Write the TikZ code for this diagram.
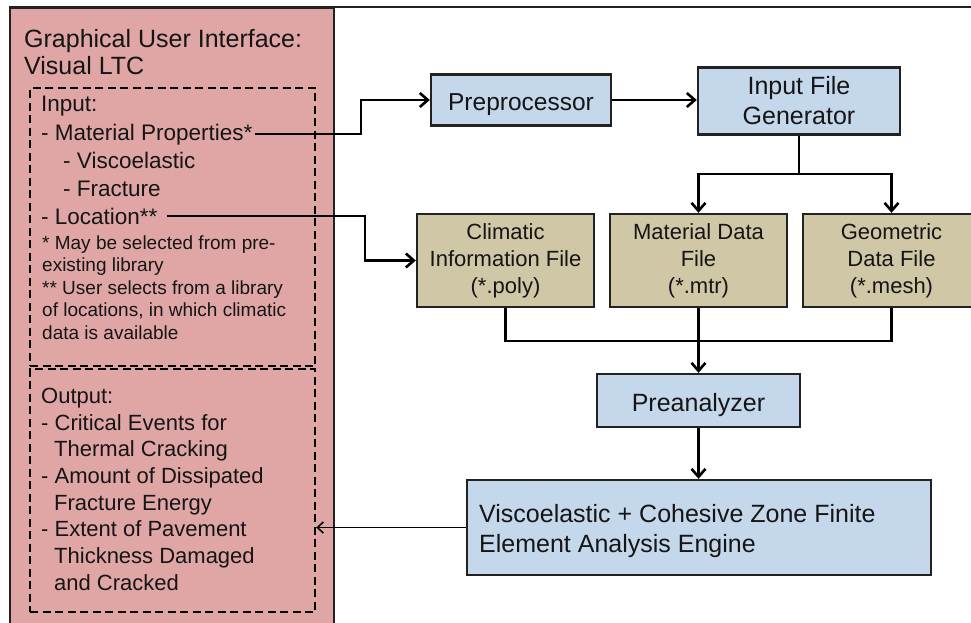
\documentclass[tikz,border=0pt]{standalone}
\usepackage{fontspec}
\setmainfont{Liberation Sans}
\usetikzlibrary{arrows.meta}
\definecolor{pinkfill}{HTML}{E0A6A6}
\definecolor{bluefill}{HTML}{C5D8EB}
\definecolor{tanfill}{HTML}{CFC7A6}
\definecolor{edgegray}{HTML}{222222}
\definecolor{txt}{HTML}{151515}
\begin{document}
\begin{tikzpicture}[x=1pt,y=-1pt,
  bluebox/.style={draw=edgegray, line width=2.4pt, fill=bluefill, align=center, text=txt, inner sep=0pt},
  tanbox/.style={draw=edgegray, line width=2.4pt, fill=tanfill, align=center, text=txt, inner sep=0pt,
    minimum width=177pt, minimum height=93pt, font=\fontsize{22}{27}\selectfont},
  dashbox/.style={draw=black, line width=2.4pt, dash pattern=on 8pt off 4.5pt, inner sep=0pt},
  conn/.style={line width=2.6pt, draw=black},
  arr/.style={conn, -{Straight Barb[length=8pt,width=14pt]}},
  arrthin/.style={line width=1.5pt, draw=black, -{Straight Barb[length=6pt,width=11pt]}},
  titletxt/.style={font=\fontsize{25}{28}\selectfont, text=txt, inner sep=1pt, anchor=base west},
  bigtxt/.style={font=\fontsize{22.5}{27}\selectfont, text=txt, inner sep=1pt, anchor=base west},
  smalltxt/.style={font=\fontsize{19}{23}\selectfont, text=txt, inner sep=1pt, anchor=base west},
  outtxt/.style={font=\fontsize{22}{27}\selectfont, text=txt, inner sep=1pt, anchor=base west},
  engtxt/.style={font=\fontsize{25}{30}\selectfont, text=txt, inner sep=0pt, anchor=base west},
]
\clip (0,0) rectangle (971,622);
\fill[white] (0,0) rectangle (971,622);
% frame
\draw[line width=1.6pt, draw=edgegray] (10,7) rectangle (1000,660);
% GUI panel
\node[draw=edgegray, line width=2.4pt, fill=pinkfill, minimum width=324pt, minimum height=640pt, inner sep=0pt] (gui) at (172,328) {};
\node[titletxt] (t1) at (23,47) {Graphical User Interface:};
\node[titletxt] (t2) at (23,74) {Visual LTC};
% dashed boxes
\node[dashbox, minimum width=285pt, minimum height=278pt] (inbox) at (172.5,227) {};
\node[dashbox, minimum width=285pt, minimum height=243pt] (outbox) at (172.5,490.5) {};
% input text
\node[bigtxt] (in0) at (40,111) {Input:};
\node[bigtxt] (mp) at (40,140) {- Material Properties*};
\node[bigtxt] (visc) at (62,168) {- Viscoelastic};
\node[bigtxt] (frac) at (62,196) {- Fracture};
\node[bigtxt] (loc) at (40,224) {- Location**};
\node[smalltxt] (n1) at (41,249) {* May be selected from pre-};
\node[smalltxt] (n2) at (41,271.5) {existing library};
\node[smalltxt] (n3) at (41,294) {** User selects from a library};
\node[smalltxt] (n4) at (41,316.5) {of locations, in which climatic};
\node[smalltxt] (n5) at (41,339) {data is available};
% output text
\node[outtxt] (o0) at (40,403) {Output:};
\node[outtxt] (o1) at (40,430) {- Critical Events for};
\node[outtxt] (o2) at (53,456.5) {Thermal Cracking};
\node[outtxt] (o3) at (40,483) {- Amount of Dissipated};
\node[outtxt] (o4) at (53,510) {Fracture Energy};
\node[outtxt] (o5) at (40,536.5) {- Extent of Pavement};
\node[outtxt] (o6) at (53,563) {Thickness Damaged};
\node[outtxt] (o7) at (53,590) {and Cracked};
% process boxes
\node[bluebox, minimum width=180pt, minimum height=51pt, text height=26pt, text depth=5pt, font=\fontsize{24.5}{30}\selectfont] (pre) at (521,100) {Preprocessor};
\node[bluebox, minimum width=202pt, minimum height=67pt, font=\fontsize{25}{30}\selectfont] (ifg) at (799,101) {Input File\\Generator};
\node[tanbox] (clim) at (505.5,260.5) {Climatic\\Information File\\(*.poly)};
\node[tanbox] (mat) at (698.5,260.5) {Material Data\\File\\(*.mtr)};
\node[tanbox] (geo) at (891.5,260.5) {Geometric\\Data File\\(*.mesh)};
\node[bluebox, minimum width=203pt, minimum height=53pt, text height=26pt, text depth=5pt, font=\fontsize{25}{30}\selectfont] (pa) at (698.5,400.5) {Preanalyzer};
\node[bluebox, minimum width=464pt, minimum height=95pt] (eng) at (699,527.5) {};
\node[engtxt] (eng1) at (479,522) {Viscoelastic + Cohesive Zone Finite};
\node[engtxt] (eng2) at (479,552) {Element Analysis Engine};
% connectors
\coordinate (e1) at (361,0);
\coordinate (e2) at (365,0);
\coordinate (split) at (799,174);
\coordinate (join) at (698.5,341);
\draw[arr] ([xshift=1pt]mp.east) -- (mp.east -| e1) |- (pre.west);
\draw[arr] ([xshift=8pt]loc.east) -- (loc.east -| e2) |- (clim.west);
\draw[arr] (pre.east) -- (pre.east -| ifg.west);
\draw[conn] (ifg.south) -- (split);
\draw[arr] (split) -| (mat.north);
\draw[arr] (split) -| (geo.north);
\draw[conn] (clim.south) |- (join) -| (geo.south);
\draw[arr] (mat.south) -- (pa.north);
\draw[arr] (pa.south) -- (pa.south |- eng.north);
\draw[arrthin] (eng.west) -- (eng.west -| outbox.east);
\end{tikzpicture}
\end{document}
